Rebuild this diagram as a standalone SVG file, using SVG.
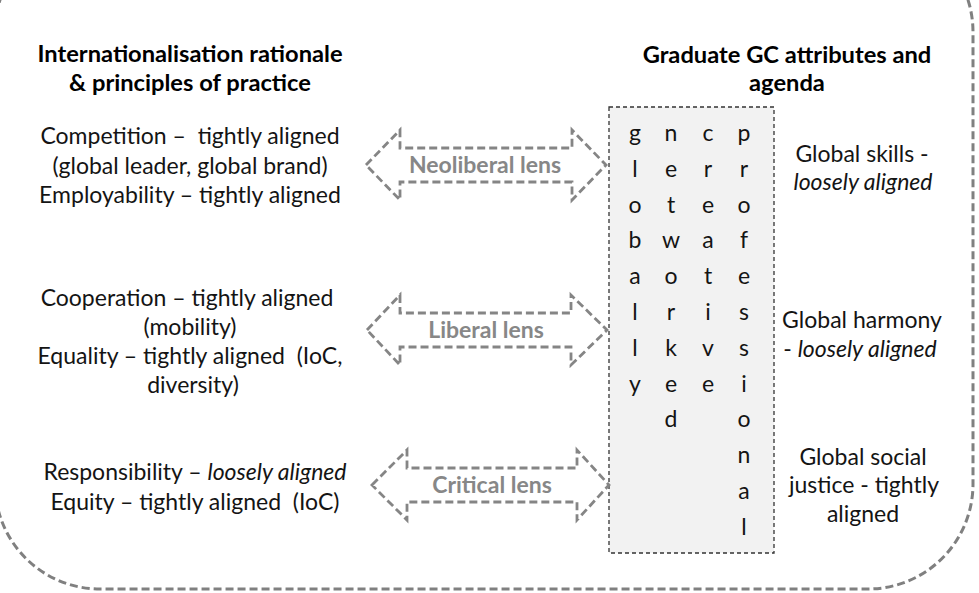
<svg xmlns="http://www.w3.org/2000/svg" width="979" height="593" viewBox="0 0 979 593">
  <style>
    .txt { font-family: Lato, "Liberation Sans", sans-serif; font-size: 23px; fill: #141414; text-anchor: middle; white-space: pre; }
    .hdr { font-family: Lato, "Liberation Sans", sans-serif; font-size: 23.7px; font-weight: bold; fill: #000; text-anchor: middle; }
    .it { font-style: italic; }
    .col { font-family: Lato, "Liberation Sans", sans-serif; font-size: 23px; fill: #141414; text-anchor: middle; }
    .lens { fill: #ffffff; stroke: #858585; stroke-width: 2.8; stroke-dasharray: 8 4; stroke-linejoin: miter; }
    .lbl { font-family: Lato, "Liberation Sans", sans-serif; font-size: 23px; font-weight: bold; fill: #878787; text-anchor: middle; }
  </style>

  <rect width="979" height="593" fill="#ffffff"/>

  <!-- outer rounded frame -->
  <rect id="frame" x="-5" y="-73" width="978" height="662" rx="105" ry="105" fill="none" stroke="#808080" stroke-width="3" stroke-dasharray="8 4"/>

  <!-- left column: internationalisation rationale -->
  <g id="rationale-header">
    <text class="hdr" x="190" y="62">Internationalisation rationale</text>
    <text class="hdr" x="190" y="91">&amp; principles of practice</text>
  </g>
  <g id="rationale-neoliberal">
    <text class="txt" x="190" y="144">Competition –  tightly aligned</text>
    <text class="txt" x="190" y="174">(global leader, global brand)</text>
    <text class="txt" x="190" y="203">Employability – tightly aligned</text>
  </g>
  <g id="rationale-liberal">
    <text class="txt" x="187" y="306">Cooperation – tightly aligned</text>
    <text class="txt" x="190" y="335">(mobility)</text>
    <text class="txt" x="190" y="364">Equality – tightly aligned  (IoC,</text>
    <text class="txt" x="193" y="393">diversity)</text>
  </g>
  <g id="rationale-critical">
    <text class="txt" x="195" y="480">Responsibility – <tspan class="it">loosely aligned</tspan></text>
    <text class="txt" x="195" y="510">Equity – tightly aligned  (IoC)</text>
  </g>

  <!-- right column: graduate attributes -->
  <g id="attributes-header">
    <text class="hdr" x="787" y="63">Graduate GC attributes and</text>
    <text class="hdr" x="787" y="91">agenda</text>
  </g>
  <g id="attributes-box">
    <rect x="609" y="107" width="165" height="446" fill="#f2f2f2" stroke="#333333" stroke-width="1.3" stroke-dasharray="4 3"/>
    <!-- globally -->
    <g class="col">
      <text x="635" y="141">g</text><text x="635" y="177">l</text><text x="635" y="213">o</text><text x="635" y="248">b</text>
      <text x="635" y="284">a</text><text x="635" y="320">l</text><text x="635" y="356">l</text><text x="635" y="392">y</text>
    </g>
    <!-- networked -->
    <g class="col">
      <text x="671" y="141">n</text><text x="671" y="177">e</text><text x="671" y="213">t</text><text x="671" y="248">w</text>
      <text x="671" y="284">o</text><text x="671" y="320">r</text><text x="671" y="356">k</text><text x="671" y="392">e</text>
      <text x="671" y="427">d</text>
    </g>
    <!-- creative -->
    <g class="col">
      <text x="708" y="141">c</text><text x="708" y="177">r</text><text x="708" y="213">e</text><text x="708" y="248">a</text>
      <text x="708" y="284">t</text><text x="708" y="320">i</text><text x="708" y="356">v</text><text x="708" y="392">e</text>
    </g>
    <!-- professional -->
    <g class="col">
      <text x="744" y="141">p</text><text x="744" y="177">r</text><text x="744" y="213">o</text><text x="744" y="248">f</text>
      <text x="744" y="284">e</text><text x="744" y="320">s</text><text x="744" y="356">s</text><text x="744" y="392">i</text>
      <text x="744" y="427">o</text><text x="744" y="463">n</text><text x="744" y="499">a</text><text x="744" y="535">l</text>
    </g>
  </g>
  <g id="attribute-skills">
    <text class="txt" x="862" y="162">Global skills -</text>
    <text class="txt it" x="863" y="190">loosely aligned</text>
  </g>
  <g id="attribute-harmony">
    <text class="txt" x="862" y="328">Global harmony</text>
    <text class="txt" x="860" y="357">- <tspan class="it">loosely aligned</tspan></text>
  </g>
  <g id="attribute-justice">
    <text class="txt" x="863" y="465">Global social</text>
    <text class="txt" x="864" y="493">justice - tightly</text>
    <text class="txt" x="863" y="522">aligned</text>
  </g>

  <!-- connectors: double-headed lens arrows -->
  <g id="connectors">
    <g id="lens-neoliberal">
      <path class="lens" d="M366,165 L400,130 L400,148 L572,148 L572,130 L606,165 L572,200 L572,182 L400,182 L400,200 Z"/>
      <text class="lbl" x="485" y="173">Neoliberal lens</text>
    </g>
    <g id="lens-liberal">
      <path class="lens" d="M367,330 L400,295 L400,313 L571,313 L571,295 L607,330 L571,365 L571,347 L400,347 L400,365 Z"/>
      <text class="lbl" x="486" y="338">Liberal lens</text>
    </g>
    <g id="lens-critical">
      <path class="lens" d="M372,485 L407,450 L407,468 L577,468 L577,450 L609,485 L577,520 L577,502 L407,502 L407,520 Z"/>
      <text class="lbl" x="492" y="493">Critical lens</text>
    </g>
  </g>
</svg>
